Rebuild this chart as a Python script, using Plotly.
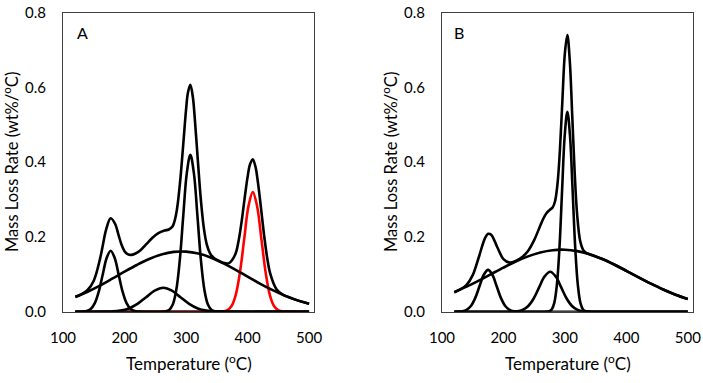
import plotly.graph_objects as go

# ---------------- Panel A data (Temperature °C, mass loss rate wt%/°C) ----------------
a_total_t = [120, 130, 140, 150, 160, 165, 170, 177.5, 185, 190, 195, 200, 205, 211, 217, 225, 235, 245, 255,
             265, 272, 278, 284, 290, 295, 300, 303, 307, 311, 314, 319, 324, 329, 334, 339, 344, 350, 360,
             370, 380, 385, 390, 395, 400, 404, 408.5, 413, 417, 422, 427, 432, 437, 447, 457, 470, 480, 490, 500]
a_total_v = [0.040, 0.047, 0.058, 0.083, 0.140, 0.180, 0.219, 0.250, 0.234, 0.207, 0.180, 0.162, 0.154, 0.152,
             0.155, 0.163, 0.180, 0.197, 0.210, 0.217, 0.220, 0.228, 0.262, 0.342, 0.438, 0.540, 0.585, 0.607,
             0.575, 0.522, 0.409, 0.301, 0.223, 0.178, 0.156, 0.146, 0.139, 0.131, 0.130, 0.153, 0.186, 0.237,
             0.300, 0.360, 0.394, 0.408, 0.387, 0.344, 0.275, 0.203, 0.143, 0.101, 0.060, 0.046, 0.037, 0.031,
             0.026, 0.021]

a_p1_t = [120, 132, 138.5, 145, 151.5, 158, 164.5, 171, 177.5, 184, 190.5, 197, 203.5, 210, 216.5, 223, 240, 500]
a_p1_v = [0, 0.0004, 0.0018, 0.0072, 0.0221, 0.0529, 0.0989, 0.1439, 0.163, 0.1439, 0.0989, 0.0529, 0.0221,
          0.0072, 0.0018, 0.0004, 0, 0]

a_p2_t = [120, 165, 179, 193, 207, 221, 235, 249, 263, 277, 291, 305, 319, 333, 347, 361, 500]
a_p2_v = [0, 0.0001, 0.0007, 0.0028, 0.0087, 0.0208, 0.0388, 0.0565, 0.064, 0.0565, 0.0388, 0.0208, 0.0087,
          0.0028, 0.0007, 0.0001, 0]

a_p3_t = [120, 255, 261, 266.75, 272.5, 278.25, 284, 289.75, 295.5, 301.25, 307, 312.75, 318.5, 324.25, 330,
          335.75, 341.5, 347.25, 353, 500]
a_p3_v = [0, 0, 0.0001, 0.0009, 0.0047, 0.0184, 0.0568, 0.1364, 0.2570, 0.3707, 0.420, 0.3707, 0.2570, 0.1364,
          0.0568, 0.0184, 0.0047, 0.0009, 0.0001, 0]

a_broad_t = [120, 140, 160, 180, 200, 220, 240, 260, 280, 300, 320, 340, 360, 380, 400, 420, 440, 460, 480, 500]
a_broad_v = [0.0393, 0.0535, 0.0699, 0.0882, 0.107, 0.125, 0.141, 0.153, 0.160, 0.1607, 0.1555, 0.145, 0.130,
             0.1127, 0.0938, 0.0753, 0.0582, 0.0433, 0.0310, 0.0214]

a_red_t = [120, 345.5, 352.5, 359.5, 366.5, 373.5, 380.5, 387.5, 394.5, 401.5, 408.5, 415.5, 422.5, 429.5,
           436.5, 443.5, 450.5, 457.5, 464.5, 500]
a_red_v = [0, 0, 0.0001, 0.0007, 0.0036, 0.0140, 0.0433, 0.1039, 0.1941, 0.2824, 0.320, 0.2824, 0.1941, 0.1039,
           0.0433, 0.0140, 0.0036, 0.0007, 0.0001, 0]

# ---------------- Panel B data ----------------
b_total_t = [120, 130, 140, 150, 160, 170, 175, 180, 190, 200, 210, 220, 230, 240, 250, 260, 265, 270, 275, 280,
             284, 288, 292, 296, 300, 304, 308, 312, 316, 320, 325, 330, 335, 340, 360, 380, 400, 420, 440, 460,
             480, 500]
b_total_v = [0.0521, 0.0599, 0.0719, 0.0977, 0.1464, 0.1970, 0.2083, 0.2058, 0.1725, 0.1407, 0.1313, 0.1356,
             0.1456, 0.1625, 0.1915, 0.2306, 0.2493, 0.2635, 0.2719, 0.2789, 0.2956, 0.3424, 0.4353, 0.5672,
             0.692, 0.740, 0.670, 0.5222, 0.3696, 0.2586, 0.1884, 0.1647, 0.1570, 0.1538, 0.1415, 0.1263,
             0.1094, 0.0919, 0.0750, 0.0593, 0.0455, 0.0339]

b_p1_t = [120, 126, 133, 140, 147, 154, 161, 168, 175, 182, 189, 196, 203, 210, 217, 224, 235, 500]
b_p1_v = [0, 0.0002, 0.0012, 0.0049, 0.0152, 0.0364, 0.0679, 0.0988, 0.112, 0.0988, 0.0679, 0.0364, 0.0152,
          0.0049, 0.0012, 0.0002, 0, 0]

b_p2_t = [120, 200, 213, 222, 231, 240, 249, 258, 267, 276, 285, 294, 303, 312, 321, 330, 339, 350, 500]
b_p2_v = [0, 0, 0.0002, 0.0012, 0.0047, 0.0145, 0.0347, 0.0649, 0.0944, 0.107, 0.0944, 0.0649, 0.0347, 0.0145,
          0.0047, 0.0012, 0.0002, 0, 0]

b_p3_t = [120, 262, 270, 274.25, 278.5, 282.75, 287, 291.25, 295.5, 299.75, 304, 308.25, 312.5, 316.75, 321,
          325.25, 329.5, 333.75, 338, 346, 500]
b_p3_v = [0, 0, 0.0001, 0.0012, 0.0059, 0.0235, 0.0723, 0.1737, 0.3273, 0.4721, 0.535, 0.4721, 0.3273, 0.1737,
          0.0723, 0.0235, 0.0059, 0.0012, 0.0001, 0, 0]

b_broad_t = [120, 140, 160, 180, 200, 220, 240, 260, 280, 300, 320, 340, 360, 380, 400, 420, 440, 460, 480, 500]
b_broad_v = [0.0521, 0.0670, 0.0833, 0.1007, 0.118, 0.1342, 0.1480, 0.1585, 0.1646, 0.1658, 0.1621, 0.1538,
             0.1415, 0.1263, 0.1094, 0.0919, 0.0750, 0.0593, 0.0455, 0.0339]

x_ticks = [100, 200, 300, 400, 500]
y_ticks = [0.0, 0.2, 0.4, 0.6, 0.8]

FONT = "Lato, 'Open Sans', sans-serif"
BLACK = "#000000"
RED = "#FF0000"
LW = 2.6

fig = go.Figure()


def add(t, v, color, xa, ya):
    fig.add_trace(go.Scatter(x=t, y=v, mode="lines", xaxis=xa, yaxis=ya,
                             line=dict(color=color, width=LW, shape="spline", smoothing=1.0),
                             showlegend=False, hoverinfo="skip"))


# Panel A (red drawn first so black baselines sit on top)
add(a_red_t, a_red_v, RED, "x", "y")
for t, v in [(a_p1_t, a_p1_v), (a_p2_t, a_p2_v), (a_p3_t, a_p3_v), (a_broad_t, a_broad_v), (a_total_t, a_total_v)]:
    add(t, v, BLACK, "x", "y")

# Panel B
for t, v in [(b_p1_t, b_p1_v), (b_p2_t, b_p2_v), (b_p3_t, b_p3_v), (b_broad_t, b_broad_v), (b_total_t, b_total_v)]:
    add(t, v, BLACK, "x2", "y2")

W, H = 703, 383


def px(x):
    return x / W


def py(y):
    return 1 - y / H


ydom = [py(311.7), py(12.7)]
xdomA = [px(63), px(314)]
xdomB = [px(442), px(692.7)]

axis_common = dict(showgrid=False, zeroline=False, showline=True, mirror=True, linecolor="#404040",
                   linewidth=1, ticks="", automargin=False, ticklabeloverflow="allow",
                   tickfont=dict(family=FONT, size=15, color="#000000"))

xa = dict(axis_common, range=[100, 508], tickvals=x_ticks, ticklabelstandoff=12)
ya = dict(axis_common, range=[0, 0.8], tickvals=y_ticks, tickformat=".1f", ticklabelstandoff=13)

fig.update_layout(
    width=W, height=H,
    margin=dict(l=0, r=0, t=0, b=0, pad=0, autoexpand=False),
    paper_bgcolor="white", plot_bgcolor="white",
    xaxis=dict(xa, domain=xdomA, anchor="y"),
    yaxis=dict(ya, domain=ydom, anchor="x"),
    xaxis2=dict(xa, domain=xdomB, anchor="y2"),
    yaxis2=dict(ya, domain=ydom, anchor="x2"),
)

annotations = [
    dict(text="Temperature (<sup>o</sup>C)", x=px(189), y=py(362), size=17),
    dict(text="Temperature (<sup>o</sup>C)", x=px(567.5), y=py(362), size=17),
    dict(text="Mass Loss Rate (wt%/<sup>o</sup>C)", x=px(11), y=py(162), textangle=-90, size=16.5),
    dict(text="Mass Loss Rate (wt%/<sup>o</sup>C)", x=px(390), y=py(162), textangle=-90, size=16.5),
    dict(text="A", x=px(82), y=py(33), size=16),
    dict(text="B", x=px(459), y=py(33), size=16),
]
fig.update_layout(annotations=[
    dict({k: v for k, v in a.items() if k != "size"}, xref="paper", yref="paper", showarrow=False,
         xanchor="center", yanchor="middle", font=dict(family=FONT, size=a["size"], color="#000000"))
    for a in annotations])

# Remove the browser's default 8px body margin so the figure fills the 703x383 window exactly.
fig.write_html("out.html", config={"displayModeBar": False},
               post_script="document.body.style.margin='0px';document.body.style.overflow='hidden';")
